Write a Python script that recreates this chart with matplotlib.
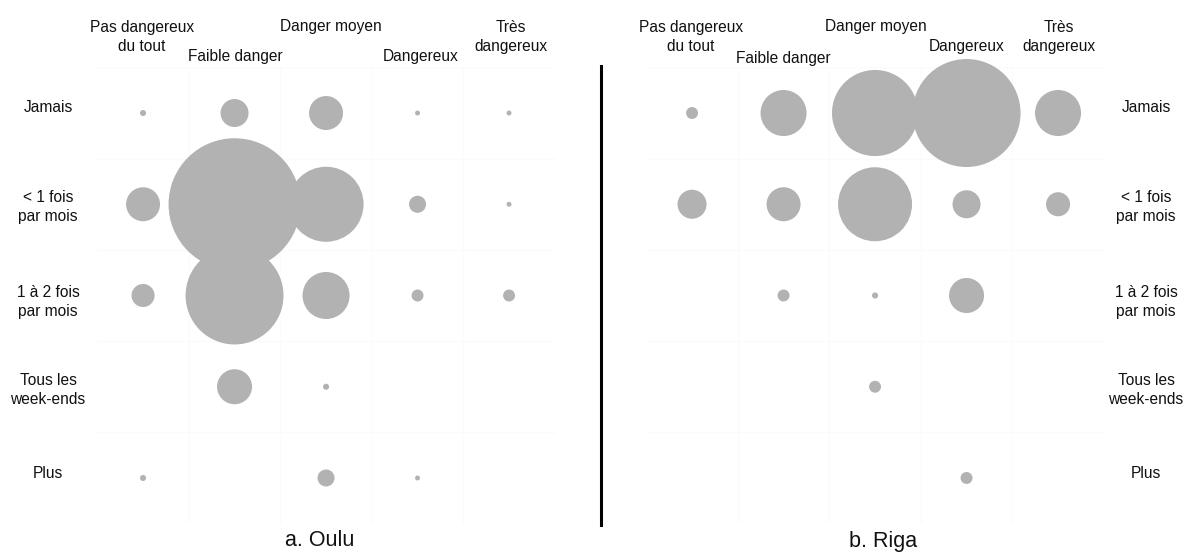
import numpy as np
import matplotlib
matplotlib.use("Agg")
import matplotlib.pyplot as plt

plt.rcParams['font.family'] = ['Liberation Sans', 'DejaVu Sans']

danger_levels = ["Pas dangereux\ndu tout", "Faible danger", "Danger moyen", "Dangereux", "Très\ndangereux"]
frequencies = ["Jamais", "< 1 fois\npar mois", "1 à 2 fois\npar mois", "Tous les\nweek-ends", "Plus"]

# share of respondents (%) per frequency (rows) x perceived danger (columns)
oulu = [
    [0.09, 1.92, 2.83, 0.06, 0.06],
    [2.83, 42.7, 13.8, 0.71, 0.06],
    [1.30, 23.5, 5.42, 0.35, 0.35],
    [0.0, 3.0, 0.09, 0.0, 0.0],
    [0.09, 0.0, 0.71, 0.06, 0.0],
]
riga = [
    [0.42, 6.23, 21.8, 34.3, 6.23],
    [2.48, 3.40, 16.1, 2.31, 1.70],
    [0.0, 0.42, 0.11, 3.61, 0.0],
    [0.0, 0.0, 0.42, 0.0, 0.0],
    [0.0, 0.0, 0.0, 0.42, 0.0],
]
titles = ["a. Oulu", "b. Riga"]

DPI = 100
fig = plt.figure(figsize=(11.86, 5.52), dpi=DPI)
W, H = 1186, 552

def px2fig(x, y):
    return x / W, 1 - y / H

panels = [
    dict(data=oulu, left=97.3, max_d=132, title=titles[0], title_x=320, rowlab_x=48,
         col_lab=[(142, 37), (235, 57), (331, 27), (421, 57), (511, 37)]),
    dict(data=riga, left=646.3, max_d=108, title=titles[1], title_x=883, rowlab_x=1146,
         col_lab=[(691, 37), (783, 58), (876, 27), (967, 47), (1059, 37)]),
]

axw = 457.5 / W
axb = 1 - 523.6 / H
axh = 456.2 / H

FS = 11.2
LS = 1.3

for p in panels:
    ax = fig.add_axes([p["left"] / W, axb, axw, axh])
    ax.set_xlim(-0.5, 4.5)
    ax.set_ylim(4.5, -0.5)
    ax.axis("off")
    # very faint cell grid
    for k in np.arange(-0.5, 5.0, 1.0):
        ax.axhline(k, color="#fafafa", lw=0.8, zorder=0)
    for k in np.arange(0.5, 4.0, 1.0):
        ax.axvline(k, color="#fbfbfb", lw=0.8, zorder=0)
    vals = np.array(p["data"], dtype=float)
    vmax = vals.max()
    xs, ys, ss = [], [], []
    for r in range(vals.shape[0]):
        for c in range(vals.shape[1]):
            v = vals[r, c]
            if v <= 0:
                continue
            d_px = p["max_d"] * np.sqrt(v / vmax)
            d_pt = d_px * 72 / DPI
            xs.append(c)
            ys.append(r)
            ss.append(d_pt ** 2)
    ax.scatter(xs, ys, s=ss, color="#b2b2b2", linewidths=0, zorder=2, clip_on=False)

    # column labels
    for (lx, ly), lab in zip(p["col_lab"], danger_levels):
        fx, fy = px2fig(lx, ly)
        fig.text(fx, fy, lab, ha="center", va="center", fontsize=FS, color="#111111",
                 linespacing=LS)
    # row labels
    row_y = [107, 207, 302, 390, 473]
    for ry, lab in zip(row_y, frequencies):
        fx, fy = px2fig(p["rowlab_x"], ry)
        fig.text(fx, fy, lab, ha="center", va="center", fontsize=FS, color="#111111",
                 linespacing=LS)
    fx, fy = px2fig(p["title_x"], 541)
    fig.text(fx, fy, p["title"], ha="center", va="center", fontsize=15.5, color="#111111")

# divider line
x0, y0 = px2fig(601, 66)
x1, y1 = px2fig(601, 525)
fig.add_artist(plt.Line2D([x0, x1], [y0, y1], color="black", lw=2.2, transform=fig.transFigure))

fig.savefig("out.png", dpi=DPI, facecolor="white")
